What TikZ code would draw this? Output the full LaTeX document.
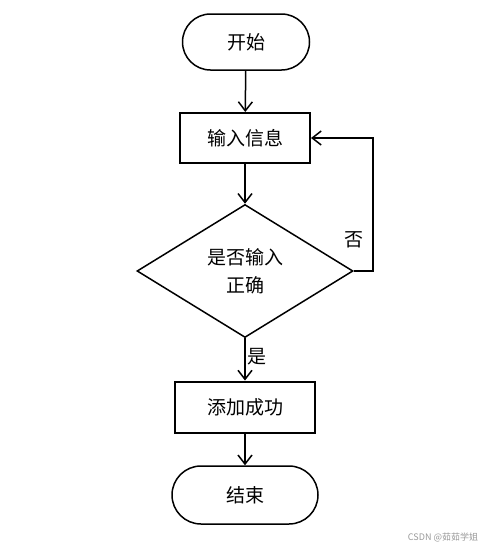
\documentclass[tikz,border=0pt]{standalone}
\usepackage{fontspec}
\newfontfamily\cjk{Noto Sans CJK SC}
\usetikzlibrary{arrows.meta,shapes.geometric}

\begin{document}
\begin{tikzpicture}[x=1pt,y=-1pt,
  every node/.style={font=\cjk\fontsize{19}{28}\selectfont},
  term/.style={draw,line width=1.5pt,rounded corners=28pt,minimum width=127pt,minimum height=56pt},
  proc/.style={draw,line width=2pt,minimum width=130pt,minimum height=50pt},
  decision/.style={draw,diamond,line width=1.5pt,inner sep=0pt,align=center,minimum width=216pt,minimum height=133pt},
  arr/.style={line width=1.5pt,-{Straight Barb[length=9pt,width=14pt,line width=1.5pt]}}]
\useasboundingbox (0,0) rectangle (486,549);

\node[term] (start) at (246,42) {开始};
\node[proc] (input) at (245,138) {输入信息};
\node[decision] (check) at (245,271) {是否输入\\正确};
\node[proc,minimum width=140pt,minimum height=51pt] (add) at (245,407) {添加成功};
\node[term,minimum width=146pt,minimum height=58pt,rounded corners=29pt] (stop) at (245,495) {结束};
\coordinate (loop) at (373,271);

\draw[arr] (start) -- (input);
\draw[arr] (input) -- (check);
\draw[arr] (check.east) -- (loop) |- (input.east);
\draw[arr] (check) -- (add);
\draw[arr] (add) -- (stop);

\node (no) at (354,240) {否};
\node (yes) at (257,357) {是};
\node[font=\cjk\fontsize{9}{11}\selectfont,text=black!40] (mark) at (443,537) {CSDN @茹茹学姐};
\end{tikzpicture}
\end{document}
